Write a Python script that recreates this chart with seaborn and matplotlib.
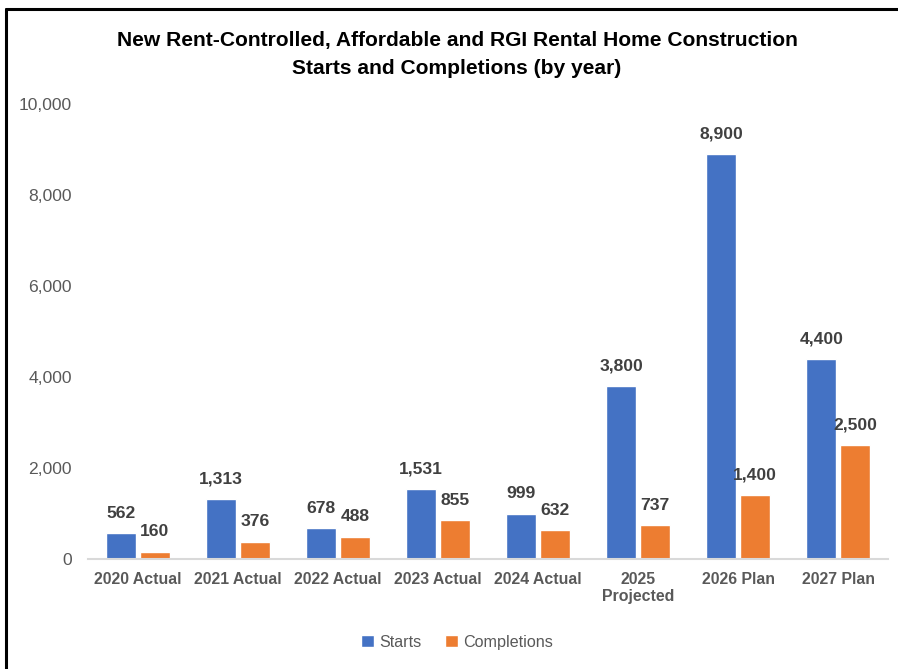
import pandas as pd
import matplotlib.pyplot as plt
import seaborn as sns
from matplotlib.lines import Line2D
from matplotlib.patches import Patch

# Datos del grafico
years = ['2020 Actual', '2021 Actual', '2022 Actual', '2023 Actual',
         '2024 Actual', '2025\nProjected', '2026 Plan', '2027 Plan']
starts = [562, 1313, 678, 1531, 999, 3800, 8900, 4400]
completions = [160, 376, 488, 855, 632, 737, 1400, 2500]
series_names = ['Starts', 'Completions']
colors = ['#4472C4', '#ED7D31']

df = pd.DataFrame({
    'year': years * 2,
    'value': starts + completions,
    'series': [series_names[0]] * len(years) + [series_names[1]] * len(years),
})

sns.set_style('white')
plt.rcParams['font.family'] = ['Liberation Sans', 'DejaVu Sans']

fig = plt.figure(figsize=(8.98, 6.69), dpi=100)
ax = fig.add_axes([0.098, 0.1644, 0.891, 0.6801])

sns.barplot(data=df, x='year', y='value', hue='series', palette=colors,
            width=0.67, gap=0.1, ax=ax, legend=False, saturation=1)

for cont in ax.containers:
    ax.bar_label(cont, labels=[f'{v:,.0f}' for v in cont.datavalues],
                 padding=9, fontsize=12.6, fontweight='bold', color='#404040')

ax.set_ylim(0, 10000)
ax.set_xlim(-0.5, len(years) - 0.5)
ax.set_yticks(range(0, 10001, 2000))
ax.set_yticklabels([f'{t:,}' for t in range(0, 10001, 2000)],
                   fontsize=12.6, color='#595959')
ax.tick_params(axis='y', length=0, pad=11.5)
ax.tick_params(axis='x', length=0, pad=9, labelsize=11.4, labelcolor='#595959')
for lbl in ax.get_xticklabels():
    lbl.set_fontweight('bold')
ax.set_xlabel('')
ax.set_ylabel('')
for side in ['top', 'right', 'left']:
    ax.spines[side].set_visible(False)
ax.spines['bottom'].set_color('#D9D9D9')
ax.spines['bottom'].set_linewidth(1.5)

fig.suptitle('New Rent-Controlled, Affordable and RGI Rental Home Construction\n'
             'Starts and Completions (by year)',
             x=0.509, y=0.953, fontsize=15.1, fontweight='bold', color='black',
             linespacing=1.6)

handles = [Patch(facecolor=c, label=n) for c, n in zip(colors, series_names)]
fig.legend(handles=handles, loc='center', bbox_to_anchor=(0.509, 0.04), ncol=2,
           frameon=False, fontsize=11.6, labelcolor='#595959',
           handlelength=0.8, handleheight=0.8, handletextpad=0.3,
           columnspacing=1.5)

# marco del grafico (arriba e izquierda)
fig.add_artist(Line2D([0.0065, 0.0065], [0.0, 0.9865], transform=fig.transFigure,
                      color='black', linewidth=2.2))
fig.add_artist(Line2D([0.0065, 1.0], [0.9865, 0.9865], transform=fig.transFigure,
                      color='black', linewidth=2.2))

fig.savefig('out.png', dpi=100)
